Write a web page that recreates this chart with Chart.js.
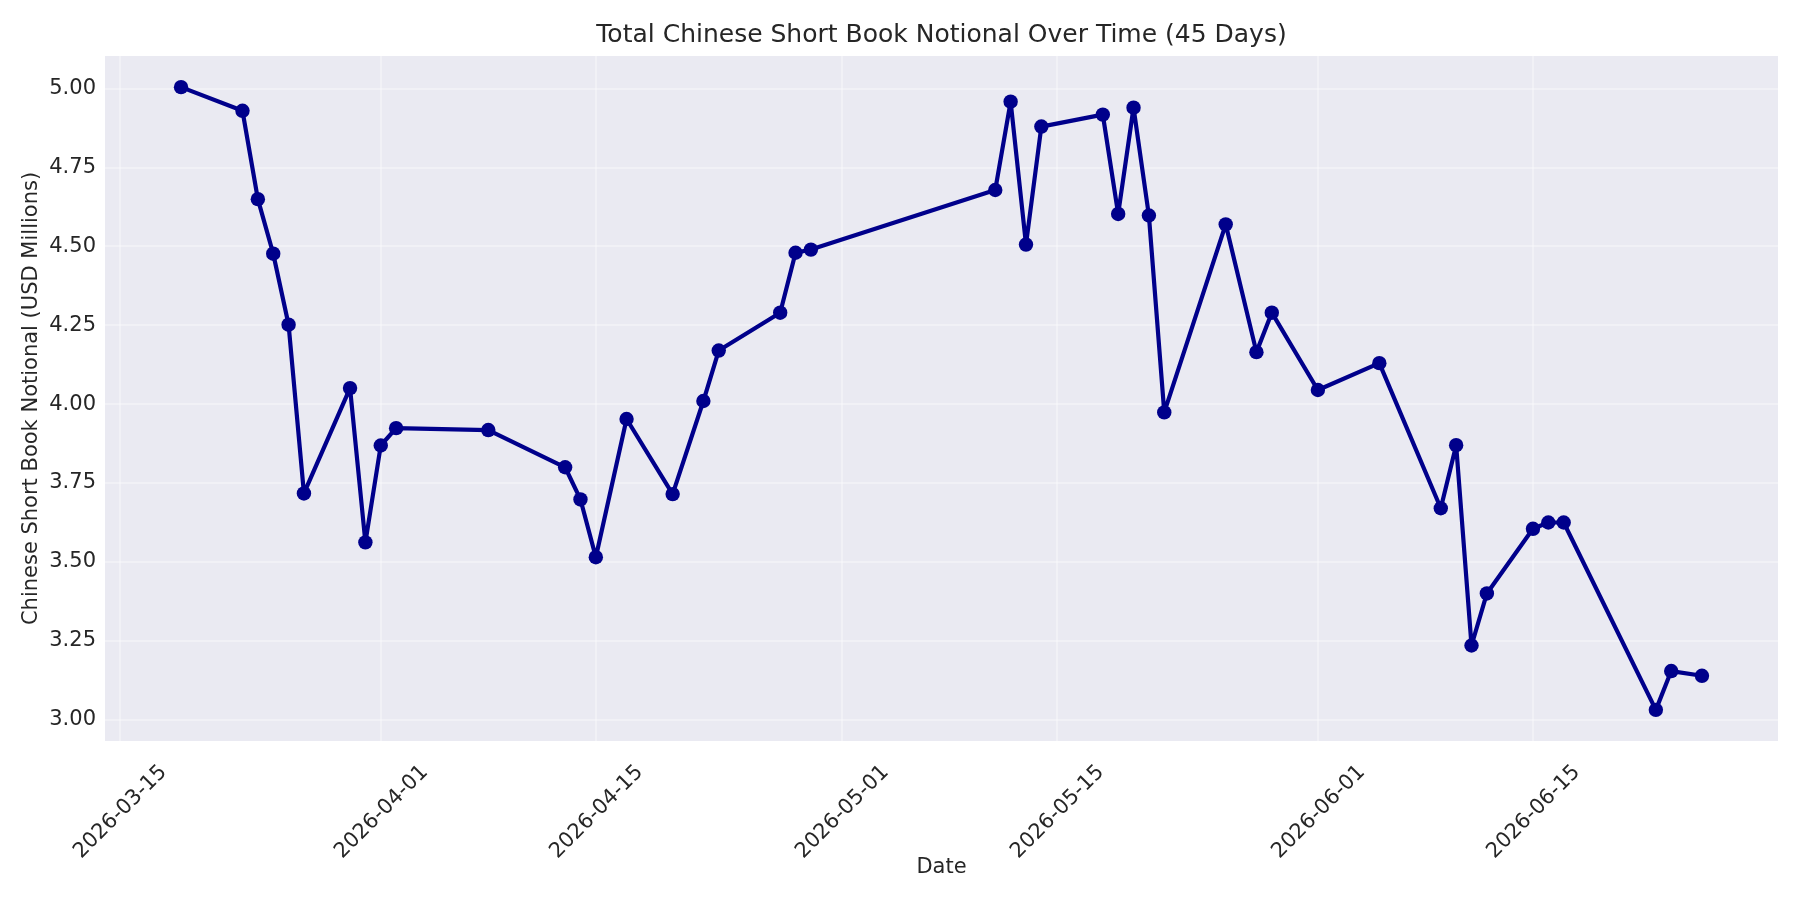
<!DOCTYPE html>
<html>
<head>
<meta charset="utf-8">
<title>Total Chinese Short Book Notional Over Time</title>
<script src="https://cdn.jsdelivr.net/npm/chart.js@4.4.1/dist/chart.umd.min.js"></script>
<style>
  html, body { margin: 0; padding: 0; background: #ffffff; }
  #wrap { width: 1800px; height: 900px; }
</style>
</head>
<body>
<div id="wrap"><canvas id="grafico" width="1800" height="900"></canvas></div>
<script>
// fechas y valores
const fechas = [
  '2026-03-19', '2026-03-23', '2026-03-24', '2026-03-25', '2026-03-26', '2026-03-27',
  '2026-03-30', '2026-03-31', '2026-04-01', '2026-04-02', '2026-04-08', '2026-04-13',
  '2026-04-14', '2026-04-15', '2026-04-17', '2026-04-20', '2026-04-22', '2026-04-23',
  '2026-04-27', '2026-04-28', '2026-04-29', '2026-05-11', '2026-05-12', '2026-05-13',
  '2026-05-14', '2026-05-18', '2026-05-19', '2026-05-20', '2026-05-21', '2026-05-22',
  '2026-05-26', '2026-05-28', '2026-05-29', '2026-06-01', '2026-06-05', '2026-06-09',
  '2026-06-10', '2026-06-11', '2026-06-12', '2026-06-15', '2026-06-16', '2026-06-17',
  '2026-06-23', '2026-06-24', '2026-06-26'
];
const notional = [
  5.005, 4.930, 4.650, 4.477, 4.252, 3.717,
  4.051, 3.562, 3.869, 3.924, 3.918, 3.800,
  3.698, 3.515, 3.953, 3.715, 4.010, 4.170,
  4.290, 4.480, 4.490, 4.679, 4.959, 4.506,
  4.880, 4.918, 4.603, 4.940, 4.598, 3.974,
  4.570, 4.165, 4.290, 4.045, 4.130, 3.670,
  3.870, 3.235, 3.400, 3.605, 3.625, 3.625,
  3.031, 3.154, 3.139
];
const fechasTicks = ['2026-03-15', '2026-04-01', '2026-04-15', '2026-05-01', '2026-05-15', '2026-06-01', '2026-06-15'];
const valoresTicks = [3.00, 3.25, 3.50, 3.75, 4.00, 4.25, 4.50, 4.75, 5.00];

const DIA = 86400000;
const aDias = (s) => Date.parse(s + 'T00:00:00Z') / DIA;
const aFecha = (d) => new Date(Math.round(d) * DIA).toISOString().slice(0, 10);

const dias = fechas.map(aDias);
const puntos = dias.map((d, i) => ({ x: d, y: notional[i] }));

// margenes de 5% como matplotlib
const margen = (arr) => {
  const lo = Math.min(...arr), hi = Math.max(...arr);
  const m = (hi - lo) * 0.05;
  return [lo - m, hi + m];
};
const [xMin, xMax] = margen(dias);
const [yMin, yMax] = margen(notional);

const texto = '#262626';
const fuente = 'DejaVu Sans';
const rejilla = 'rgba(255,255,255,0.32)';

const fondoPlot = {
  id: 'fondoPlot',
  beforeDraw(chart) {
    const { ctx, chartArea } = chart;
    ctx.save();
    ctx.fillStyle = '#ffffff';
    ctx.fillRect(0, 0, chart.width, chart.height);
    ctx.fillStyle = '#EAEAF2';
    ctx.fillRect(chartArea.left, chartArea.top, chartArea.right - chartArea.left, chartArea.bottom - chartArea.top);
    ctx.restore();
  }
};

const ctx = document.getElementById('grafico').getContext('2d');
new Chart(ctx, {
  type: 'line',
  data: {
    datasets: [{
      label: 'Chinese Short Book Notional',
      data: puntos,
      borderColor: '#00008B',
      backgroundColor: '#00008B',
      pointBackgroundColor: '#00008B',
      pointBorderWidth: 0,
      pointRadius: 7.2,
      borderWidth: 4.2,
      borderJoinStyle: 'round',
      borderCapStyle: 'round',
      tension: 0,
      fill: false
    }]
  },
  plugins: [fondoPlot],
  options: {
    responsive: false,
    animation: false,
    devicePixelRatio: 1,
    layout: { padding: { left: 0, right: 22, top: 0, bottom: 0 } },
    plugins: {
      legend: { display: false },
      tooltip: { enabled: false }
    },
    scales: {
      // eje superior solo para centrar el titulo sobre el area del grafico
      arriba: {
        type: 'linear',
        position: 'top',
        min: xMin,
        max: xMax,
        afterFit: (scale) => { scale.height = 56; },
        border: { display: false },
        grid: { display: false, drawTicks: false },
        ticks: { display: false },
        title: {
          display: true,
          text: 'Total Chinese Short Book Notional Over Time (45 Days)',
          color: texto,
          font: { family: fuente, size: 25, weight: 'normal' },
          padding: { top: 20, bottom: 0 }
        }
      },
      x: {
        type: 'linear',
        position: 'bottom',
        min: xMin,
        max: xMax,
        afterBuildTicks: (scale) => {
          scale.ticks = fechasTicks.map(f => ({ value: aDias(f) }));
        },
        afterFit: (scale) => { scale.height = 159; },
        border: { display: false },
        grid: { color: rejilla, lineWidth: 2, drawTicks: false },
        ticks: {
          color: texto,
          font: { family: fuente, size: 21 },
          minRotation: 45,
          maxRotation: 45,
          padding: 19,
          labelOffset: 44,
          callback: (v) => aFecha(v)
        },
        title: {
          display: true,
          text: 'Date',
          color: texto,
          font: { family: fuente, size: 21 },
          padding: { top: 0, bottom: 20 }
        }
      },
      y: {
        type: 'linear',
        min: yMin,
        max: yMax,
        afterBuildTicks: (scale) => {
          scale.ticks = valoresTicks.map(v => ({ value: v }));
        },
        afterFit: (scale) => { scale.width = 105; },
        border: { display: false },
        grid: { color: rejilla, lineWidth: 2, drawTicks: false },
        ticks: {
          color: texto,
          font: { family: fuente, size: 21 },
          padding: 9,
          callback: (v) => Number(v).toFixed(2)
        },
        title: {
          display: true,
          text: 'Chinese Short Book Notional (USD Millions)',
          color: texto,
          font: { family: fuente, size: 21 },
          padding: { top: 19, bottom: 0 }
        }
      }
    }
  }
});
</script>
</body>
</html>
